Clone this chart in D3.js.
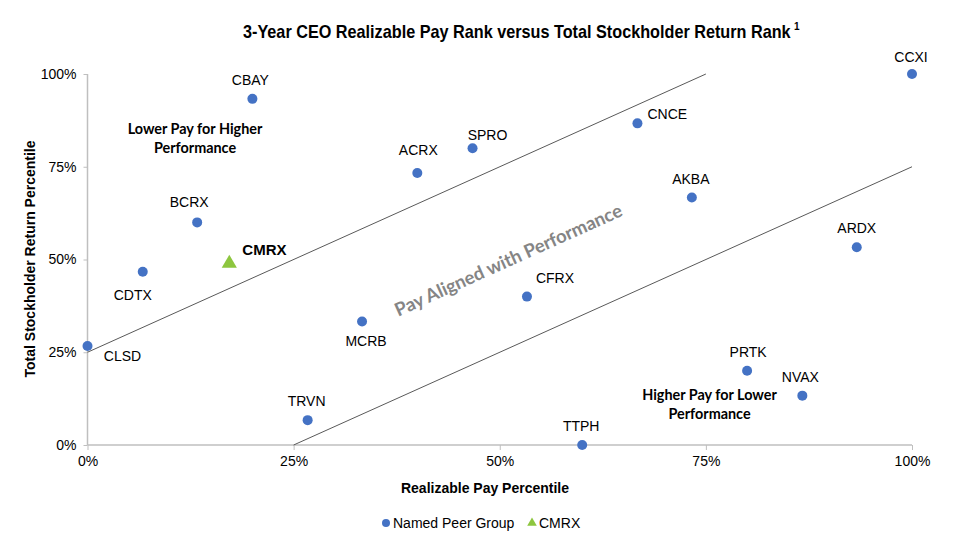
<!DOCTYPE html>
<html><head><meta charset="utf-8">
<script src="https://cdn.jsdelivr.net/npm/d3@7"></script>
<style>body{margin:0;background:#fff}svg{display:block}</style>
</head><body>
<script>
const peers = ["CBAY","BCRX","CDTX","CLSD","TRVN","MCRB","ACRX","SPRO","CFRX","TTPH","CNCE","AKBA","PRTK","NVAX","ARDX","CCXI"];
const payPct = [20.0,13.3,6.7,0.0,26.7,33.3,40.0,46.7,53.3,60.0,66.7,73.3,80.0,86.7,93.3,100.0];
const tsrPct = [93.3,60.0,46.7,26.7,6.7,33.3,73.3,80.0,40.0,0.0,86.7,66.7,20.0,13.3,53.3,100.0];
const company = {name:"CMRX", pay:17.2, tsr:49.2};
const bandLines = [[[0,25],[75,100]],[[25,0],[100,75]]];
const ticks = [0,25,50,75,100];

const W=969,H=548;
const svg=d3.select("body").append("svg").attr("width",W).attr("height",H);
const x=d3.scaleLinear().domain([0,100]).range([87.5,912]);
const y=d3.scaleLinear().domain([0,100]).range([445,74]);
const fmt=d=>d+"%";
const arial="'Liberation Sans', Arial, sans-serif";
const cal="Lato, 'Open Sans', sans-serif";

// title (condensed to match the narrow bold face)
const title=svg.append("text").attr("x",0).attr("y",0)
  .style("font-family",arial).style("font-weight","bold").style("font-size","18px").attr("fill","#000")
  .text("3-Year CEO Realizable Pay Rank versus Total Stockholder Return Rank");
const tw=title.node().getComputedTextLength();
title.attr("transform",`translate(243,38) scale(${548/tw},1)`);
svg.append("text").attr("x",794).attr("y",30)
  .style("font-family",arial).style("font-weight","bold").style("font-size","10px").text("1");

// axes
const xa=svg.append("g").attr("transform","translate(0,445)")
  .call(d3.axisBottom(x).tickValues(ticks).tickFormat(fmt).tickSize(5).tickPadding(6));
const ya=svg.append("g").attr("transform","translate(87.5,0)")
  .call(d3.axisLeft(y).tickValues(ticks).tickFormat(fmt).tickSize(4).tickPadding(7));
[xa,ya].forEach(a=>{
  a.select(".domain").attr("stroke","#bfbfbf").attr("stroke-width",1.5);
  a.selectAll(".tick line").attr("stroke","#bfbfbf").attr("stroke-width",1);
  a.selectAll("text").style("font-family",arial).style("font-size","14px").attr("fill","#000");
});
xa.select(".domain").attr("d","M87.5,0H912");
ya.select(".domain").attr("d","M0,74V445");

// band lines
const line=d3.line().x(d=>x(d[0])).y(d=>y(d[1]));
svg.selectAll(".band").data(bandLines).enter().append("path")
  .attr("d",line).attr("stroke","#595959").attr("stroke-width",1).attr("fill","none");

// axis titles
svg.append("text").attr("x",485).attr("y",493).attr("text-anchor","middle")
  .style("font-family",arial).style("font-weight","bold").style("font-size","14px").text("Realizable Pay Percentile");
svg.append("text").attr("transform","translate(35,259) rotate(-90)").attr("text-anchor","middle")
  .style("font-family",arial).style("font-weight","bold").style("font-size","14px").text("Total Stockholder Return Percentile");

// annotations
function multi(xc,yc,lines,size){
  const t=svg.append("text").attr("text-anchor","middle").style("font-family",cal).style("font-weight","bold").style("font-size",size+"px");
  lines.forEach((l,i)=>t.append("tspan").attr("x",xc).attr("y",yc+i*19).text(l));
}
multi(195,134,["Lower Pay for Higher","Performance"],14.4);
multi(709.5,400,["Higher Pay for Lower","Performance"],14.4);
const ang=Math.atan2(y(100)-y(25),x(75)-x(0))*180/Math.PI;
svg.append("text").attr("transform",`translate(511,266) rotate(${ang})`).attr("text-anchor","middle")
  .style("font-family",cal).style("font-weight","bold").style("font-size","18.5px").attr("fill","#858585")
  .text("Pay Aligned with Performance");

// points
const data=peers.map((n,i)=>({n,px:payPct[i],ty:tsrPct[i]}));
svg.selectAll(".pt").data(data).enter().append("circle")
  .attr("cx",d=>x(d.px)).attr("cy",d=>y(d.ty)).attr("r",5).attr("fill","#4472C4");
// label placement offsets (dx, dy, anchor)
const off={CBAY:[-2,-14,"middle"],BCRX:[-8,-15,"middle"],CDTX:[-10,28,"middle"],CLSD:[35,15,"middle"],
  TRVN:[-1,-14,"middle"],MCRB:[4,25,"middle"],ACRX:[1,-18,"middle"],SPRO:[15,-8,"middle"],
  CFRX:[28,-14,"middle"],TTPH:[-1,-14,"middle"],CNCE:[10,-4,"start"],AKBA:[-1,-14,"middle"],
  PRTK:[1,-14,"middle"],NVAX:[-2,-14,"middle"],ARDX:[0,-14,"middle"],CCXI:[-1,-12,"middle"]};
svg.selectAll(".lb").data(data).enter().append("text")
  .attr("x",d=>x(d.px)+off[d.n][0]).attr("y",d=>y(d.ty)+off[d.n][1])
  .attr("text-anchor",d=>off[d.n][2])
  .style("font-family",arial).style("font-size","14px").attr("fill","#000").text(d=>d.n);

// company
svg.append("path").attr("d",d3.symbol(d3.symbolTriangle,100)())
  .attr("transform",`translate(${x(company.pay)},${y(company.tsr)+1})`).attr("fill","#8DC63F");
svg.append("text").attr("x",x(company.pay)+13).attr("y",y(company.tsr)-7)
  .style("font-family",arial).style("font-weight","bold").style("font-size","15px").text(company.name);

// legend
const lg=svg.append("g");
lg.append("circle").attr("cx",386).attr("cy",523).attr("r",4).attr("fill","#4472C4");
lg.append("text").attr("x",393).attr("y",528).style("font-family",arial).style("font-size","14px").text("Named Peer Group");
lg.append("path").attr("d",d3.symbol(d3.symbolTriangle,40)()).attr("transform","translate(532,523)").attr("fill","#8DC63F");
lg.append("text").attr("x",539).attr("y",528).style("font-family",arial).style("font-size","14px").text("CMRX");
</script>
</body></html>
